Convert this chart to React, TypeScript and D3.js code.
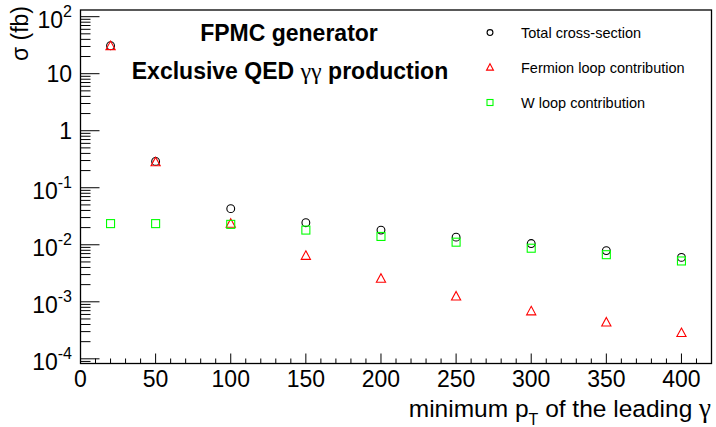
import React from 'react';
import * as d3 from 'd3';

// minimum pT cut of the leading photon (GeV)
const ptCuts = [20, 50, 100, 150, 200, 250, 300, 350, 400];
// cross-sections in fb
const totalXs = [31, 0.29, 0.043, 0.0244, 0.0181, 0.0136, 0.0105, 0.0079, 0.006];
const fermionXs = [30.5, 0.28, 0.0234, 0.0064, 0.00254, 0.00124, 0.00068, 0.000434, 0.000283];
const wLoopXs = [0.0235, 0.0235, 0.0228, 0.0181, 0.014, 0.0111, 0.0087, 0.0067, 0.0052];

const xTicks = [0, 50, 100, 150, 200, 250, 300, 350, 400];
const yTickExps = [2, 1, 0, -1, -2, -3, -4];

const W = 716;
const H = 427;
const frame = { left: 80.5, right: 711.5, top: 10, bottom: 363.5 };

const x = d3.scaleLinear().domain([0, 420]).range([frame.left, frame.right]);
const y = d3.scaleLog().domain([Math.pow(10, -4.082), Math.pow(10, 2.117)]).range([frame.bottom, frame.top]);

const FONT = 'Liberation Sans, Arial, Helvetica, sans-serif';
const SERIF = 'Liberation Serif, Times New Roman, serif';

const Marker = ({ kind, cx, cy, s = 1 }: { kind: string; cx: number; cy: number; s?: number }) => {
  if (kind === 'circle') {
    return <circle cx={cx} cy={cy} r={3.9 * s} fill="none" stroke="#000" strokeWidth={1.1} />;
  }
  if (kind === 'triangle') {
    const p = `M${cx},${cy - 5 * s}L${cx + 4.6 * s},${cy + 3.5 * s}L${cx - 4.6 * s},${cy + 3.5 * s}Z`;
    return <path d={p} fill="none" stroke="#ff0000" strokeWidth={1.1} />;
  }
  return <rect x={cx - 4 * s} y={cy - 4 * s} width={8 * s} height={8 * s} fill="none" stroke="#00ff00" strokeWidth={1.1} />;
};

const series = [
  { name: 'Total cross-section', kind: 'circle', values: totalXs },
  { name: 'Fermion loop contribution', kind: 'triangle', values: fermionXs },
  { name: 'W loop contribution', kind: 'square', values: wLoopXs },
];

export default function App() {
  // minor ticks
  const xMinor = d3.range(0, 421, 10).filter((v) => v % 50 !== 0);
  const yMinor: number[] = [];
  for (let e = -5; e <= 2; e++) {
    for (let m = 2; m <= 9; m++) {
      const v = m * Math.pow(10, e);
      if (v >= y.domain()[0] && v <= y.domain()[1]) yMinor.push(v);
    }
  }

  return (
    <svg width={W} height={H} style={{ position: 'absolute', left: 0, top: 0, background: '#fff' }} fontFamily={FONT}>
      <rect x={0} y={0} width={W} height={H} fill="#fff" />

      {/* axis ticks */}
      {xTicks.map((t) => (
        <line key={'xm' + t} x1={x(t)} x2={x(t)} y1={frame.bottom} y2={frame.bottom - 10} stroke="#000" />
      ))}
      {xMinor.map((t) => (
        <line key={'xn' + t} x1={x(t)} x2={x(t)} y1={frame.bottom} y2={frame.bottom - 5} stroke="#000" />
      ))}
      {yTickExps.map((e) => (
        <line key={'ym' + e} x1={frame.left} x2={frame.left + 19} y1={y(Math.pow(10, e))} y2={y(Math.pow(10, e))} stroke="#000" />
      ))}
      {yMinor.map((v, i) => (
        <line key={'yn' + i} x1={frame.left} x2={frame.left + 10} y1={y(v)} y2={y(v)} stroke="#000" />
      ))}

      {/* frame */}
      <rect x={frame.left} y={frame.top} width={frame.right - frame.left} height={frame.bottom - frame.top} fill="none" stroke="#000" strokeWidth={1.3} />

      {/* tick labels */}
      {xTicks.map((t) => (
        <text key={'xl' + t} x={x(t)} y={387} textAnchor="middle" fontSize={23} fill="#000">
          {t}
        </text>
      ))}
      {yTickExps.map((e) => {
        const ty = y(Math.pow(10, e));
        if (e === 0 || e === 1) {
          return (
            <text key={'yl' + e} x={72} y={ty + 8.5} textAnchor="end" fontSize={23} fill="#000">
              {e === 0 ? '1' : '10'}
            </text>
          );
        }
        return (
          <text key={'yl' + e} x={72} y={ty + 11.5} textAnchor="end" fontSize={23} fill="#000">
            10
            <tspan fontSize={16} dy={-11}>
              {String(e)}
            </tspan>
          </text>
        );
      })}

      {/* axis titles */}
      <text transform="translate(28,6) rotate(-90)" textAnchor="end" fontSize={23} fill="#000">
        σ (fb)
      </text>
      <text x={711} y={416.5} textAnchor="end" fontSize={24.5} fill="#000">
        minimum p<tspan fontSize={16} dy={8}>T</tspan>
        <tspan dy={-8}> of the leading </tspan>
        <tspan fontFamily={SERIF} fontSize={27}>γ</tspan>
      </text>

      {/* header text */}
      <text x={289} y={41} textAnchor="middle" fontSize={23} fontWeight="bold" fill="#000">
        FPMC generator
      </text>
      <text x={290} y={79} textAnchor="middle" fontSize={23} fontWeight="bold" fill="#000">
        Exclusive QED <tspan fontFamily={SERIF} fontWeight="normal" fontSize={24}>γγ</tspan> production
      </text>

      {/* legend */}
      {series.map((s, i) => {
        const ly = 32.5 + i * 35;
        return (
          <g key={'lg' + s.name}>
            <Marker kind={s.kind} cx={490} cy={ly} s={0.75} />
            <text x={521} y={ly + 5} fontSize={14.5} fill="#000">
              {s.name}
            </text>
          </g>
        );
      })}

      {/* data points */}
      {series.map((s) => (
        <g key={'pts' + s.name}>
          {s.values.map((v, i) => (
            <Marker key={i} kind={s.kind} cx={x(ptCuts[i])} cy={y(v)} />
          ))}
        </g>
      ))}
    </svg>
  );
}
